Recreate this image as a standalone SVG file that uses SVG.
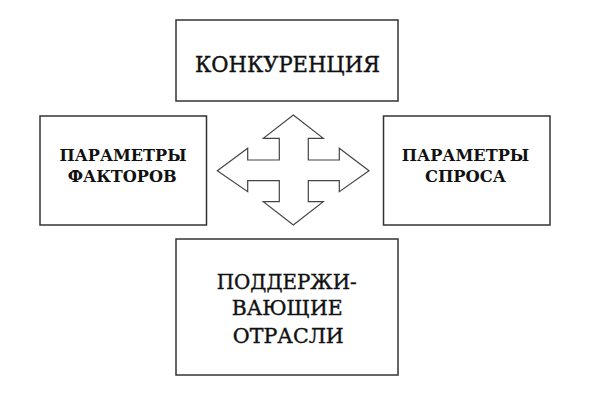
<svg xmlns="http://www.w3.org/2000/svg" width="591" height="402" viewBox="0 0 591 402">
<style>
.box{fill:#fff;stroke:#333;stroke-width:1.5}
.t{font-family:"DejaVu Serif","Liberation Serif",serif;fill:#111;text-anchor:middle}
.big{font-size:22px;stroke:#111;stroke-width:0.4}
.mid{font-size:20.5px;stroke:#111;stroke-width:0.4}
.sm{font-size:17px;font-weight:bold}
</style>
<rect width="591" height="402" fill="#fff"/>
<g id="konkurencia">
<rect class="box" x="176" y="20" width="222" height="81"/>
<text class="t big" x="287.5" y="71.5" textLength="185" lengthAdjust="spacingAndGlyphs">КОНКУРЕНЦИЯ</text>
</g>
<g id="faktory">
<rect class="box" x="40" y="116" width="166.5" height="109"/>
<text class="t sm" x="123" y="160.5" textLength="127" lengthAdjust="spacingAndGlyphs">ПАРАМЕТРЫ</text>
<text class="t sm" x="122.2" y="182" textLength="109" lengthAdjust="spacingAndGlyphs">ФАКТОРОВ</text>
</g>
<g id="spros">
<rect class="box" x="383.5" y="116" width="166.5" height="109"/>
<text class="t sm" x="465.5" y="160.5" textLength="127.5" lengthAdjust="spacingAndGlyphs">ПАРАМЕТРЫ</text>
<text class="t sm" x="465.5" y="182" textLength="81" lengthAdjust="spacingAndGlyphs">СПРОСА</text>
</g>
<g id="otrasli">
<rect class="box" x="176" y="239" width="222" height="136"/>
<text class="t mid" x="286.7" y="288.5" textLength="140" lengthAdjust="spacingAndGlyphs">ПОДДЕРЖИ-</text>
<text class="t mid" x="287.2" y="315" textLength="111" lengthAdjust="spacingAndGlyphs">ВАЮЩИЕ</text>
<text class="t mid" x="288.3" y="342.5" textLength="111" lengthAdjust="spacingAndGlyphs">ОТРАСЛИ</text>
</g>
<g id="connectors">
<polygon fill="#fff" stroke="#444" stroke-width="1.2" points="293.3,115 323.3,138.3 308.3,138.3 308.3,160 339.3,160 339.3,148.3 369,170.7 339.3,191.7 339.3,180.7 308.3,180.7 308.3,201.7 323.3,201.7 293.3,225 263.3,201.7 279.3,201.7 279.3,180.7 247.7,180.7 247.7,191.7 217.3,170.7 247.7,148.3 247.7,160 279.3,160 279.3,138.3 263.3,138.3"/>
</g>
</svg>
